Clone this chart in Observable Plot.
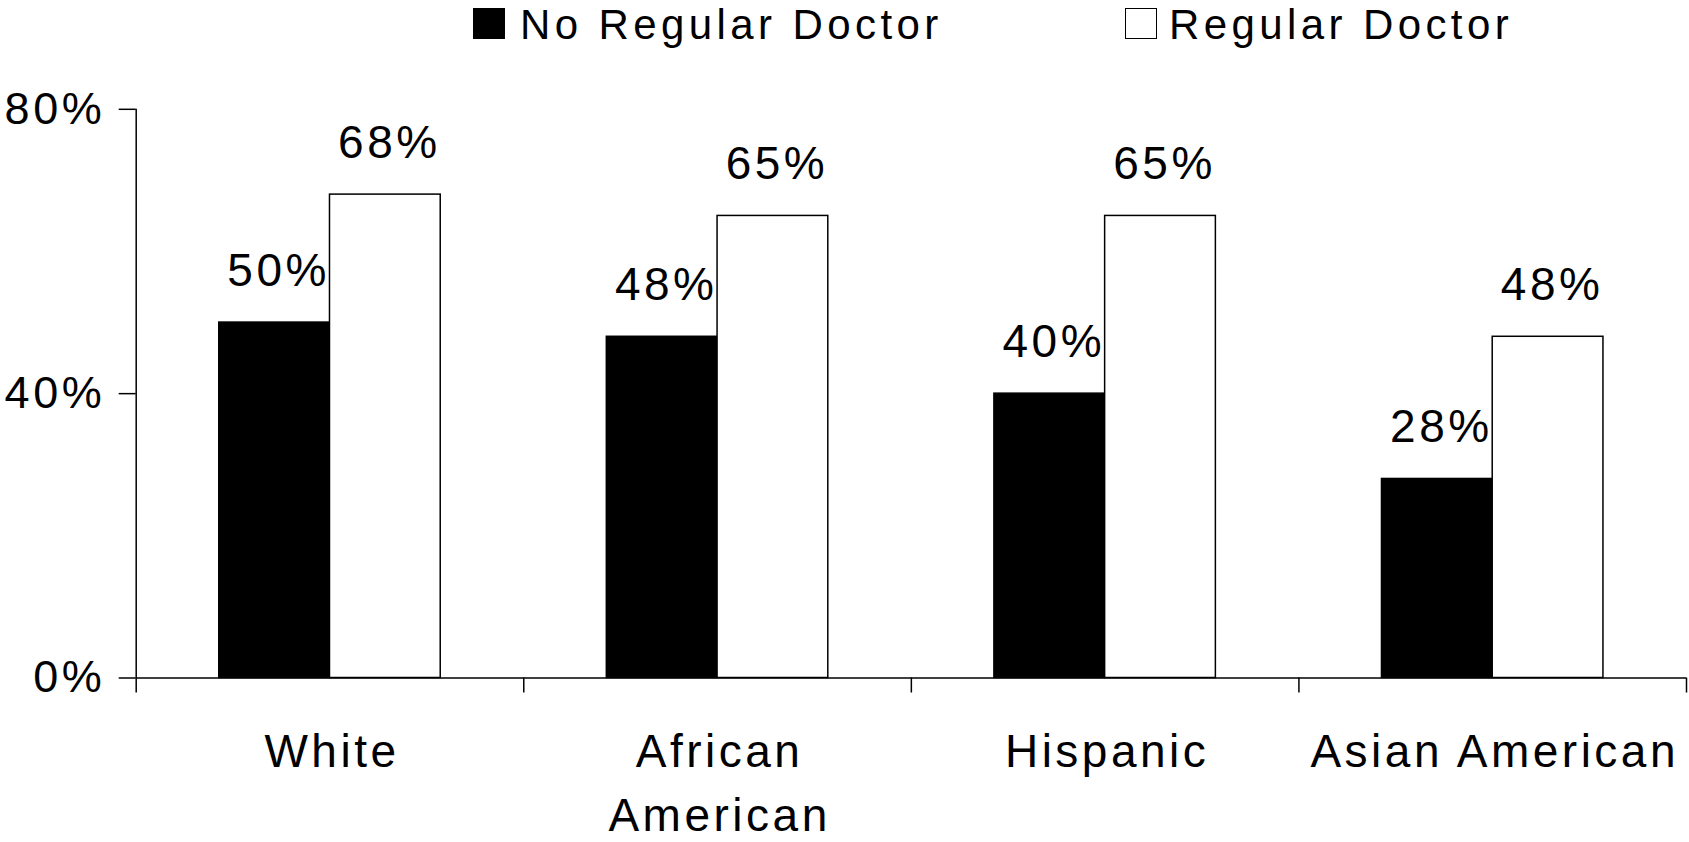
<!DOCTYPE html>
<html>
<head>
<meta charset="utf-8">
<script src="https://cdn.jsdelivr.net/npm/d3@7"></script>
<script src="https://cdn.jsdelivr.net/npm/@observablehq/plot@0.6"></script>
<style>
  html, body { margin: 0; padding: 0; background: #fff; overflow: hidden; }
  #wrap { position: relative; width: 1689px; height: 842px; font-family: "Liberation Sans", Arial, sans-serif; }
  #legend { position: absolute; left: 0; top: 0; width: 1689px; height: 50px; }
  .sw { position: absolute; box-sizing: border-box; border: 1.5px solid #000; }
  .lt { position: absolute; font-size: 42px; line-height: 42px; letter-spacing: 4.4px; color: #000; white-space: nowrap; }
  #chart { position: absolute; left: 0; top: 50px; }
  #chart svg text { letter-spacing: 3.5px; }
  #chart svg g[aria-label="categories"] text { letter-spacing: 2.1px; }
</style>
</head>
<body>
<div id="wrap">
  <div id="legend"></div>
  <div id="chart"></div>
</div>
<script>
// ---- data ----
const categories = ["White", "African\nAmerican", "Hispanic", "Asian American"];
const seriesNames = ["No Regular Doctor", "Regular Doctor"];
const noRegularDoctor = [50, 48, 40, 28];
const regularDoctor = [68, 65, 65, 48];
const yTicks = [0, 40, 80];
const seriesFill = ["#000000", "#ffffff"];

// ---- table built from the arrays ----
const seriesValues = [noRegularDoctor, regularDoctor];
const rows = [];
categories.forEach((c, i) => {
  seriesNames.forEach((s, j) => {
    rows.push({category: c, ci: i, series: s, si: j, value: seriesValues[j][i]});
  });
});

// Excel-like layout: gap width 150% => bar = 1/3.5 of category band
const barW = 1 / 3.5;
const gap = 0.75 * barW;
const x1 = d => d.ci + gap + d.si * barW;
const x2 = d => d.ci + gap + (d.si + 1) * barW;

const plot = Plot.plot({
  width: 1689,
  height: 792,
  marginLeft: 135.7,
  marginRight: 3,
  marginTop: 58.8,
  marginBottom: 164.5,
  style: {fontFamily: "'Liberation Sans', Arial, sans-serif", fontSize: "45px", color: "#000", background: "#fff"},
  x: {domain: [0, categories.length], axis: null},
  y: {domain: [0, 80], axis: null},
  color: {domain: seriesNames, range: seriesFill},
  marks: [
    Plot.rectY(rows, {
      x1, x2, y1: 0, y2: "value",
      fill: "series",
      stroke: "#000",
      strokeWidth: 1.5
    }),
    Plot.ruleX([0], {stroke: "#000", strokeWidth: 1.5}),
    Plot.ruleY([0], {stroke: "#000", strokeWidth: 1.5}),
    Plot.axisY({
      ticks: yTicks,
      tickFormat: d => d + "%",
      tickSize: 17,
      tickPadding: 14,
      strokeWidth: 1.5,
      stroke: "#000",
      fill: "#000",
      label: null,
      fontSize: 45
    }),
    Plot.axisX({
      ticks: d3.range(categories.length + 1),
      tickFormat: () => "",
      tickSize: 15,
      strokeWidth: 1.5,
      stroke: "#000",
      label: null
    }),
    Plot.text(rows, {
      x: d => (x1(d) + x2(d)) / 2,
      y: "value",
      text: d => d.value + "%",
      lineAnchor: "bottom",
      dy: -37,
      dx: 4,
      fontSize: 46,
      fill: "#000"
    }),
    Plot.text(categories, {
      x: (d, i) => i + 0.5,
      y: 0,
      text: d => d,
      lineAnchor: "top",
      lineHeight: 1.4,
      dy: 43,
      dx: 2,
      fontSize: 46,
      fill: "#000",
      ariaLabel: "categories"
    })
  ]
});
document.getElementById("chart").appendChild(plot);

// ---- legend (HTML, above the SVG) ----
const legend = document.getElementById("legend");
const legendPos = [{sx: 473, tx: 520}, {sx: 1125, tx: 1169}];
seriesNames.forEach((s, j) => {
  const sw = document.createElement("div");
  sw.className = "sw";
  sw.style.left = legendPos[j].sx + "px";
  sw.style.top = "8px";
  sw.style.width = "32px";
  sw.style.height = "31px";
  sw.style.background = seriesFill[j];
  legend.appendChild(sw);
  const t = document.createElement("div");
  t.className = "lt";
  t.style.left = legendPos[j].tx + "px";
  t.style.top = "4px";
  t.textContent = s;
  legend.appendChild(t);
});
</script>
</body>
</html>
